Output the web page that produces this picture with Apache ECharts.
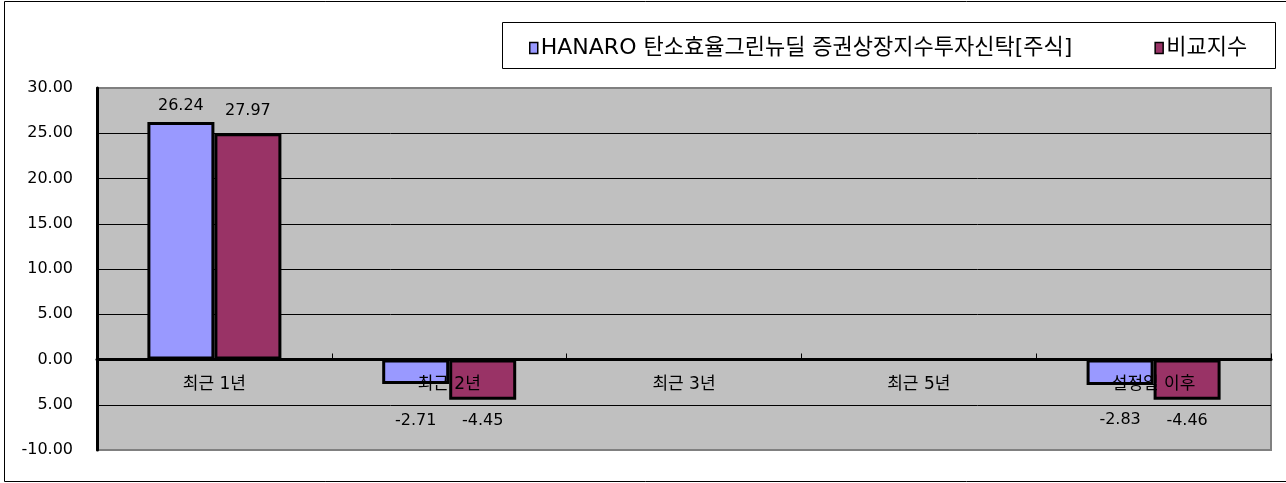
<!DOCTYPE html>
<html>
<head>
<meta charset="utf-8">
<script src="https://cdn.jsdelivr.net/npm/echarts@6/dist/echarts.min.js"></script>
<style>html,body{margin:0;padding:0;background:#fff;}#c{width:1286px;height:483px;}</style>
</head>
<body>
<div id="c"></div>
<script>
const categories = ['최근 1년', '최근 2년', '최근 3년', '최근 5년', '설정일 이후'];
const seriesNames = ['HANARO 탄소효율그린뉴딜 증권상장지수투자신탁[주식]', '비교지수'];
const fundValues = [26.24, -2.71, null, null, -2.83];
const indexValues = [25.0, -4.45, null, null, -4.46];
const fundLabels = ['26.24', '-2.71', '', '', '-2.83'];
const indexLabels = ['27.97', '-4.45', '', '', '-4.46'];
const yTickLabels = { '-10': '-10.00', '-5': '5.00', '0': '0.00', '5': '5.00', '10': '10.00', '15': '15.00', '20': '20.00', '25': '25.00', '30': '30.00' };

const FONT = '"DejaVu Sans", "Noto Sans CJK KR", sans-serif';
const fundDist = [8, 29, 0, 0, 27];
const indexDist = [14, 13, 0, 0, 13];

const GRID_TOP = 88, GRID_H = 362, Y_MIN = -10, Y_MAX = 30;
// shift the category axis up from the grid bottom to the zero line
const zeroOffset = -GRID_H * (0 - Y_MIN) / (Y_MAX - Y_MIN);
// grid line colours: outer edges grey (frame), inner lines black
const splitColors = ['#808080', '#000', '#000', '#000', '#000', '#000', '#000', '#000', '#808080'];

function mk(values, labels, dist) {
  return values.map((v, i) => ({
    value: v,
    label: { distance: dist[i], formatter: labels[i] }
  }));
}

const chart = echarts.init(document.getElementById('c'), null, { renderer: 'canvas' });
chart.setOption({
  animation: false,
  backgroundColor: '#ffffff',
  graphic: [
    { type: 'rect', shape: { x: 4.5, y: 1.5, width: 1285, height: 480 }, style: { fill: 'none', stroke: '#000', lineWidth: 1 }, z: 0 },
    { type: 'rect', shape: { x: 502.5, y: 22.5, width: 773, height: 46 }, style: { fill: '#fff', stroke: '#000', lineWidth: 1 }, z: 0 }
  ],
  legend: {
    left: 524, top: 32,
    icon: 'rect', itemWidth: 8, itemHeight: 11, itemGap: 82,
    itemStyle: { borderColor: '#000', borderWidth: 1.5 },
    textStyle: { fontSize: 22, color: '#000', fontFamily: FONT, padding: [0, 0, 0, -2] },
    z: 5
  },
  grid: {
    left: 97, top: GRID_TOP, width: 1174, height: GRID_H,
    show: true, backgroundColor: '#c0c0c0', borderColor: '#808080', borderWidth: 2
  },
  xAxis: {
    type: 'category', data: categories, position: 'bottom', offset: zeroOffset,
    axisLine: { onZero: false, lineStyle: { color: '#000', width: 3 } },
    axisTick: { show: true, inside: true, length: 6, lineStyle: { color: '#000', width: 1 } },
    axisLabel: { color: '#000', fontSize: 17, margin: 17, fontFamily: FONT },
    z: 3
  },
  yAxis: {
    type: 'value', min: Y_MIN, max: Y_MAX, interval: 5,
    axisLine: { show: true, lineStyle: { color: '#000', width: 3 } },
    axisTick: { show: false },
    axisLabel: { color: '#000', fontSize: 16, margin: 24, fontFamily: FONT,
      formatter: v => yTickLabels[String(v)] },
    splitLine: { show: true, lineStyle: { color: splitColors, width: 1 } }
  },
  series: [
    {
      name: seriesNames[0], type: 'bar', barWidth: 67, barGap: '0%',
      data: mk(fundValues, fundLabels, fundDist),
      itemStyle: { color: '#9999ff', borderColor: '#000', borderWidth: 3 },
      label: { show: true, position: 'outside', color: '#000', fontSize: 16, fontFamily: FONT }
    },
    {
      name: seriesNames[1], type: 'bar', barWidth: 67, barGap: '0%',
      data: mk(indexValues, indexLabels, indexDist),
      itemStyle: { color: '#993366', borderColor: '#000', borderWidth: 3 },
      label: { show: true, position: 'outside', color: '#000', fontSize: 16, fontFamily: FONT }
    }
  ]
});
</script>
</body>
</html>
